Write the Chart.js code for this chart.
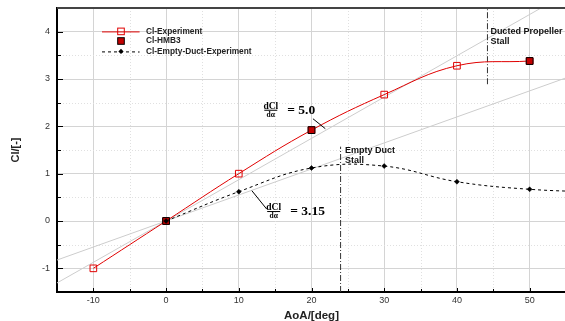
<!DOCTYPE html>
<html>
<head>
<meta charset="utf-8">
<script src="https://cdn.jsdelivr.net/npm/chart.js@4"></script>
<style>
  html, body { margin: 0; padding: 0; overflow: hidden; background: #fff; }
  #wrap { width: 566px; height: 321px; }
</style>
</head>
<body>
<div id="wrap"><canvas id="c" width="566" height="321"></canvas></div>
<script>
// Lift coefficient vs angle of attack
const aoaExp   = [-10, 0, 10, 20, 30, 40, 50];
const clExp    = [-1.0, 0, 1.0, 1.92, 2.67, 3.28, 3.38];
const aoaHmb3  = [0, 20, 50];
const clHmb3   = [0, 1.92, 3.38];
const aoaDuct  = [0, 10, 20, 30, 40, 50, 60];
const clDuct   = [0, 0.62, 1.12, 1.16, 0.83, 0.67, 0.61];

// Lift-curve slopes (per radian) quoted in the annotations
const liftSlopes = [5.0, 3.15];
const slopeLabels = ['5.0', '3.15'];

// Stall markers
const stallAoA    = [24, 44.2];
const stallSpan   = [[-1.5, 1.57], [2.89, 4.5]];
const stallLabels = [['Empty Duct', 'Stall'], ['Ducted Propeller', 'Stall']];

// Axes
const xRange = [-15, 55];
const yRange = [-1.5, 4.5];
const xTicks = [-10, 0, 10, 20, 30, 40, 50];
const yTicks = [-1, 0, 1, 2, 3, 4];
const xMinor = [-5, 5, 15, 25, 35, 45];
const yMinor = [-0.5, 0.5, 1.5, 2.5, 3.5];

const legendNames = ['Cl-Experiment', 'Cl-HMB3', 'Cl-Empty-Duct-Experiment'];

const RED = '#e00000';
const DARKRED = '#c40000';
const SANS = '"Liberation Sans", Arial, sans-serif';
const SERIF = '"Liberation Serif", "DejaVu Serif", serif';

const pts = (xs, ys) => xs.map((x, i) => ({ x, y: ys[i] }));
const slopeLine = k => xRange.map(x => ({ x, y: k * Math.PI / 180 * x }));

const datasets = [
  ...liftSlopes.map(k => ({
    data: slopeLine(k), borderColor: '#cdcdcd', borderWidth: 1,
    pointRadius: 0, tension: 0, order: 6
  })),
  ...stallAoA.map((a, i) => ({
    data: stallSpan[i].map(y => ({ x: a, y })), borderColor: '#333',
    borderWidth: 1, borderDash: [6, 2, 1, 2], pointRadius: 0, tension: 0, order: 5
  })),
  {
    data: pts(aoaDuct, clDuct), borderColor: '#000', borderWidth: 1,
    borderDash: [3, 3], pointStyle: 'rectRot', pointRadius: 2.5,
    pointBackgroundColor: '#000', pointBorderColor: '#000', pointBorderWidth: 0.5,
    tension: 0.4, order: 1
  },
  {
    data: pts(aoaExp, clExp), borderColor: RED, borderWidth: 1,
    pointStyle: 'rect', pointRadius: 4.7, pointBackgroundColor: 'rgba(255,255,255,0)',
    pointBorderColor: RED, pointBorderWidth: 1, tension: 0.4, order: 3
  },
  {
    data: pts(aoaHmb3, clHmb3), showLine: false,
    pointStyle: 'rect', pointRadius: 4.8, pointBackgroundColor: DARKRED,
    pointBorderColor: '#000', pointBorderWidth: 1, order: 2
  }
];

// dCl/dα fraction followed by "= value"
function frac(ctx, cx, cy, num, den, eqText) {
  ctx.save();
  ctx.fillStyle = '#000';
  ctx.textAlign = 'center';
  ctx.font = 'bold 9.5px ' + SERIF;
  ctx.textBaseline = 'alphabetic';
  ctx.fillText(num, cx, cy - 1.5);
  ctx.textBaseline = 'top';
  ctx.font = 'bold 7.5px ' + SERIF;
  ctx.fillText(den, cx, cy + 1.2);
  ctx.fillRect(cx - 6.5, cy - 0.5, 13, 1);
  ctx.font = 'bold 13.5px ' + SERIF;
  ctx.textAlign = 'left';
  ctx.textBaseline = 'middle';
  ctx.fillText(eqText, cx + 16.5, cy);
  ctx.restore();
}

const decor = {
  id: 'decor',
  beforeDatasetsDraw(chart) {
    const { ctx, chartArea: a, scales: { x, y } } = chart;
    ctx.save();
    ctx.strokeStyle = '#e0e0e0';
    ctx.lineWidth = 1;
    ctx.setLineDash([1, 2]);
    xMinor.forEach(v => {
      const px = Math.round(x.getPixelForValue(v)) + 0.5;
      ctx.beginPath(); ctx.moveTo(px, a.top); ctx.lineTo(px, a.bottom); ctx.stroke();
    });
    yMinor.forEach(v => {
      const py = Math.round(y.getPixelForValue(v)) + 0.5;
      ctx.beginPath(); ctx.moveTo(a.left, py); ctx.lineTo(a.right, py); ctx.stroke();
    });
    ctx.restore();
  },
  afterDatasetsDraw(chart) {
    const { ctx, chartArea: a, scales: { x, y } } = chart;
    ctx.save();
    // top frame
    ctx.strokeStyle = '#444';
    ctx.lineWidth = 2;
    ctx.beginPath(); ctx.moveTo(a.left, a.top); ctx.lineTo(a.right, a.top); ctx.stroke();

    // inward tick marks
    ctx.strokeStyle = '#000';
    ctx.lineWidth = 1;
    const tickX = (vals, len) => vals.forEach(v => {
      const px = Math.round(x.getPixelForValue(v)) + 0.5;
      ctx.beginPath(); ctx.moveTo(px, a.bottom); ctx.lineTo(px, a.bottom - len); ctx.stroke();
    });
    const tickY = (vals, len) => vals.forEach(v => {
      const py = Math.round(y.getPixelForValue(v)) + 0.5;
      ctx.beginPath(); ctx.moveTo(a.left, py); ctx.lineTo(a.left + len, py); ctx.stroke();
    });
    tickX(xTicks, 4); tickX(xMinor, 3);
    tickY(yTicks, 6); tickY(yMinor, 4);

    // stall labels
    ctx.fillStyle = '#111';
    ctx.font = 'bold 9px ' + SANS;
    ctx.textAlign = 'left';
    ctx.textBaseline = 'middle';
    const labelPos = [[24.6, 1.49], [44.6, 4.0]];
    stallLabels.forEach((lines, i) => {
      const px = x.getPixelForValue(labelPos[i][0]);
      const py = y.getPixelForValue(labelPos[i][1]);
      lines.forEach((t, j) => ctx.fillText(t, px, py + j * 10));
    });

    // slope annotations with leader lines
    const leaders = [[[20.2, 2.16], [21.9, 1.95]], [[11.8, 0.64], [13.85, 0.25]]];
    const fracPos = [[14.4, 2.34], [14.8, 0.2]];
    ctx.strokeStyle = '#000';
    ctx.lineWidth = 1;
    leaders.forEach(([p0, p1]) => {
      ctx.beginPath();
      ctx.moveTo(x.getPixelForValue(p0[0]), y.getPixelForValue(p0[1]));
      ctx.lineTo(x.getPixelForValue(p1[0]), y.getPixelForValue(p1[1]));
      ctx.stroke();
    });
    fracPos.forEach((p, i) => {
      frac(ctx, x.getPixelForValue(p[0]), y.getPixelForValue(p[1]),
           'dCl', 'd\u03b1', '= ' + slopeLabels[i]);
    });

    // legend
    const lx0 = a.left + 45, lx1 = a.left + 82.6, mx = a.left + 64, tx = a.left + 89;
    const rows = [a.top + 23.4, a.top + 33, a.top + 43.4];
    ctx.setLineDash([]);
    ctx.strokeStyle = RED;
    ctx.beginPath(); ctx.moveTo(lx0, rows[0] + 0.5); ctx.lineTo(lx1, rows[0] + 0.5); ctx.stroke();
    ctx.strokeRect(mx - 3.3, rows[0] - 3.3, 6.6, 6.6);
    ctx.fillStyle = DARKRED;
    ctx.fillRect(mx - 3.3, rows[1] - 3.3, 6.6, 6.6);
    ctx.strokeStyle = '#000';
    ctx.strokeRect(mx - 3.3, rows[1] - 3.3, 6.6, 6.6);
    ctx.setLineDash([3, 3]);
    ctx.beginPath(); ctx.moveTo(lx0, rows[2] + 0.5); ctx.lineTo(lx1, rows[2] + 0.5); ctx.stroke();
    ctx.setLineDash([]);
    ctx.fillStyle = '#000';
    ctx.beginPath();
    ctx.moveTo(mx, rows[2] - 2.6); ctx.lineTo(mx + 2.6, rows[2]);
    ctx.lineTo(mx, rows[2] + 2.6); ctx.lineTo(mx - 2.6, rows[2]); ctx.closePath(); ctx.fill();
    ctx.fillStyle = '#222';
    ctx.font = 'bold 8.3px ' + SANS;
    ctx.textBaseline = 'middle';
    legendNames.forEach((n, i) => ctx.fillText(n, tx, rows[i]));
    ctx.restore();
  }
};

const noPad = s => { s.paddingTop = 0; s.paddingBottom = 0; s.paddingLeft = 0; s.paddingRight = 0; };

new Chart(document.getElementById('c'), {
  type: 'line',
  data: { datasets },
  plugins: [decor],
  options: {
    responsive: false,
    animation: false,
    layout: { autoPadding: false, padding: { top: 8, right: 0, left: 0, bottom: 0 } },
    plugins: { legend: { display: false }, tooltip: { enabled: false } },
    scales: {
      x: {
        type: 'linear', min: xRange[0], max: xRange[1],
        afterBuildTicks: s => { s.ticks = xTicks.map(v => ({ value: v })); },
        afterFit: s => { s.height = 29; noPad(s); },
        ticks: { font: { family: SANS, size: 9 }, color: '#333', padding: 3, maxRotation: 0, autoSkip: false },
        grid: { drawTicks: false, color: '#d4d4d4', lineWidth: 1 },
        border: { color: '#000', width: 2 },
        title: { display: true, text: 'AoA/[deg]', color: '#222',
                 font: { family: SANS, size: 11.5, weight: 'bold', lineHeight: 0.85 },
                 padding: { top: 0, bottom: 0 } }
      },
      y: {
        type: 'linear', min: yRange[0], max: yRange[1],
        afterBuildTicks: s => { s.ticks = yTicks.map(v => ({ value: v })); },
        afterFit: s => { s.width = 57; noPad(s); },
        ticks: { font: { family: SANS, size: 9 }, color: '#333', padding: 7 },
        grid: { drawTicks: false, color: '#d4d4d4', lineWidth: 1 },
        border: { color: '#000', width: 2 },
        title: { display: true, text: 'Cl/[-]', color: '#222',
                 font: { family: SANS, size: 11, weight: 'bold' },
                 padding: { top: 9, bottom: 0 } }
      }
    }
  }
});
</script>
</body>
</html>
